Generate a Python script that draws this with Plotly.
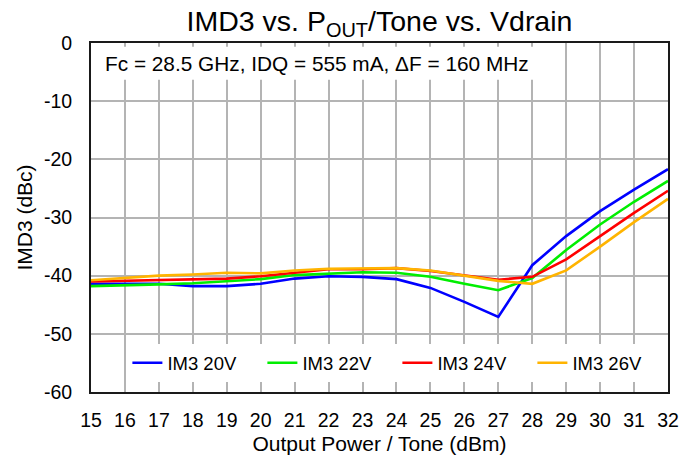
import plotly.graph_objects as go

# Output power per tone (dBm)
pout = [15, 16, 17, 18, 19, 20, 21, 22, 23, 24, 25, 26, 27, 28, 29, 30, 31, 32]

# IMD3 (dBc) for each drain voltage
im3_20v = [-41.4, -41.4, -41.4, -41.8, -41.8, -41.4, -40.5, -40.1, -40.2, -40.6,
           -42.1, -44.5, -47.1, -38.2, -33.2, -28.9, -25.2, -21.7]
im3_22v = [-41.8, -41.7, -41.5, -41.3, -41.0, -40.6, -39.9, -39.6, -39.4, -39.5,
           -40.2, -41.4, -42.5, -40.4, -35.6, -31.2, -27.3, -23.7]
im3_24v = [-41.0, -40.9, -40.8, -40.7, -40.5, -40.1, -39.5, -38.9, -38.9, -38.7,
           -39.2, -39.9, -40.7, -40.2, -37.2, -33.2, -29.2, -25.4]
im3_26v = [-40.8, -40.4, -40.0, -39.8, -39.5, -39.6, -39.1, -38.8, -38.8, -38.7,
           -39.1, -40.0, -40.9, -41.4, -39.1, -35.0, -30.8, -26.8]

series_names = ["IM3 20V", "IM3 22V", "IM3 24V", "IM3 26V"]
series_values = [im3_20v, im3_22v, im3_24v, im3_26v]
series_colors = ["#0000ff", "#00ee00", "#ff0000", "#ffb400"]

x_ticks = list(range(15, 33))
y_ticks = [0, -10, -20, -30, -40, -50, -60]

FONT = "Liberation Sans, Arial, sans-serif"

fig = go.Figure()
for name, vals, col in zip(series_names, series_values, series_colors):
    fig.add_trace(go.Scatter(
        x=pout, y=vals, mode="lines", name=name,
        line=dict(color=col, width=2.6),
    ))

# White backing for the condition note and the legend strip
fig.add_shape(type="rect", xref="x", yref="y", x0=15, x1=28.45, y0=-0.65, y1=-6.3,
              fillcolor="white", line_width=0, layer="between")
fig.add_shape(type="rect", xref="paper", yref="y", x0=0, x1=1, y0=-51.6, y1=-59.1,
              fillcolor="white", line_width=0, layer="between")

fig.add_annotation(
    x=15.34, y=-3.6, xref="x", yref="y", xanchor="left", yanchor="middle",
    text="Fc = 28.5 GHz, IDQ = 555 mA, \u0394F = 160 MHz",
    showarrow=False, font=dict(size=20.8, color="black", family=FONT),
)

fig.update_layout(
    width=680, height=455,
    margin=dict(l=91, r=12, t=43, b=63, autoexpand=False),
    paper_bgcolor="white", plot_bgcolor="white",
    font=dict(family=FONT, color="black", size=19),
    title=dict(
        text="IMD3 vs. P<sub>OUT</sub>/Tone vs. Vdrain",
        x=0.5, xref="paper", xanchor="center",
        y=1 - 21 / 455, yref="container", yanchor="middle",
        font=dict(size=28.5, family=FONT, color="black"),
    ),
    showlegend=True,
    legend=dict(
        orientation="h", x=0.531, xanchor="center", y=0.0824, yanchor="middle",
        bgcolor="white", borderwidth=0,
        font=dict(size=18.5, family=FONT, color="black"),
        entrywidth=90, entrywidthmode="pixels",
    ),
)

fig.update_xaxes(
    range=[15, 32], tickvals=x_ticks, ticktext=[str(v) for v in x_ticks],
    showgrid=True, gridcolor="#b4b4b4", gridwidth=1.5,
    showline=True, linecolor="#1a1a1a", linewidth=2, mirror=True,
    ticks="", zeroline=False, ticklabelstandoff=10, automargin=False,
    tickfont=dict(size=19.5),
    title=dict(text="Output Power / Tone (dBm)", font=dict(size=21), standoff=8),
)
fig.update_yaxes(
    range=[-60, 0], tickvals=y_ticks, ticktext=[str(v) for v in y_ticks],
    showgrid=True, gridcolor="#b4b4b4", gridwidth=1.5,
    showline=True, linecolor="#1a1a1a", linewidth=2, mirror=True,
    ticks="", zeroline=False, ticklabelstandoff=13, automargin=False,
    tickfont=dict(size=19.5),
    title=dict(text="IMD3 (dBc)", font=dict(size=21), standoff=6),
)

fig.write_html("out.html")
